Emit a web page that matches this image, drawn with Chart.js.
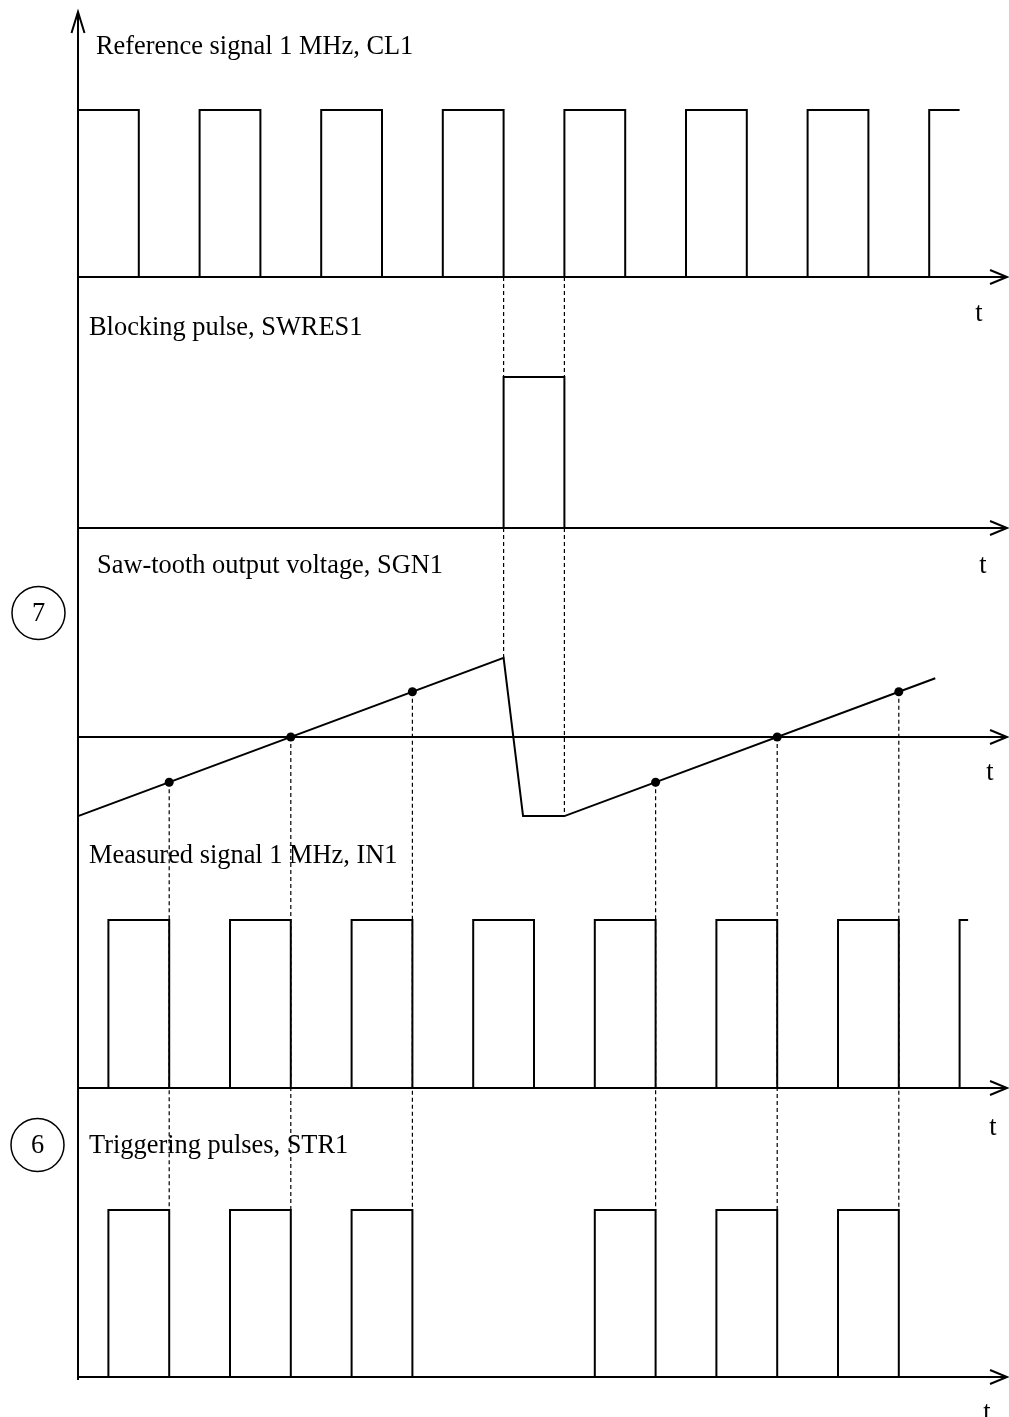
<!DOCTYPE html>
<html>
<head>
<meta charset="utf-8">
<script src="https://cdn.jsdelivr.net/npm/chart.js@4.4.1/dist/chart.umd.min.js"></script>
<style>
  html, body { margin: 0; padding: 0; background: #fff; }
  canvas { display: block; }
</style>
</head>
<body>
<canvas id="timing" width="1009" height="1417"></canvas>
<script>
// time in microseconds, logic levels 0/1, saw-tooth in arbitrary volts
const clTimes  = [0, 0.5, 1, 1.5, 2, 2.5, 3, 3.5, 4, 4.5, 5, 5.5, 6, 6.5, 7, 7.25];
const clLevels = [1, 0, 1, 0, 1, 0, 1, 0, 1, 0, 1, 0, 1, 0, 1, 1];

const swresTimes  = [0, 3.5, 4.0];
const swresLevels = [0, 1, 0];

const sgnTimes  = [0, 3.5, 3.66, 4.0, 7.05];
const sgnLevels = [-1.75, 1.75, -1.75, -1.75, 1.3];

const sampleTimes  = [0.75, 1.75, 2.75, 4.75, 5.75, 6.75];
const sampleLevels = [-1, 0, 1, -1, 0, 1];

const inTimes  = [0, 0.25, 0.75, 1.25, 1.75, 2.25, 2.75, 3.25, 3.75, 4.25, 4.75, 5.25, 5.75, 6.25, 6.75, 7.25, 7.32];
const inLevels = [0, 1, 0, 1, 0, 1, 0, 1, 0, 1, 0, 1, 0, 1, 0, 1, 1];

const strTimes  = [0, 0.25, 0.75, 1.25, 1.75, 2.25, 2.75, 4.25, 4.75, 5.25, 5.75, 6.25, 6.75];
const strLevels = [0, 1, 0, 1, 0, 1, 0, 1, 0, 1, 0, 1, 0];

const resetTimes = [3.5, 4.0];

const laneTitles = [
  'Reference signal 1 MHz, CL1',
  'Blocking pulse, SWRES1',
  'Saw-tooth output voltage, SGN1',
  'Measured signal 1 MHz, IN1',
  'Triggering pulses, STR1'
];
const axisName = 't';
const markerLabels = ['7', '6'];

// layout of the sheet (px)
const W = 1009, H = 1417;
const X0 = 78, PX_PER_US = 121.6;
const AXIS_END_T = 7.64;
const Y_AXIS_TOP = 12, Y_AXIS_BOTTOM = 1380;
const laneOrder = ['cl', 'swres', 'sgn', 'inp', 'str'];
const lanes = {
  cl:    { base: 277,  gain: 167 },
  swres: { base: 528,  gain: 151 },
  sgn:   { base: 737,  gain: 45.2 },
  inp:   { base: 1088, gain: 168 },
  str:   { base: 1377, gain: 167 }
};
const titlePos = [[96, 54], [89, 335], [97, 573], [89, 863], [89, 1153]];
const tLabelPos = [[979, 321], [983, 573], [990, 780], [993, 1135], [987, 1420]];
const markerPos = [[38.5, 613], [37.5, 1145]];
const FONT = '26.4px "Liberation Serif", "Times New Roman", serif';

const yOf = (lane, v) => lanes[lane].base - v * lanes[lane].gain;
const trace = (lane, times, levels) => times.map((t, i) => ({x: t, y: yOf(lane, levels[i])}));
const sgnAt = t => sgnLevels[sgnTimes.indexOf(t)];

// dotted guide lines, segments separated by gaps
const guides = [];
resetTimes.forEach(t => {
  guides.push({x: t, y: yOf('cl', 0)}, {x: t, y: yOf('swres', 1)}, {x: t, y: null});
  guides.push({x: t, y: yOf('swres', 0)}, {x: t, y: yOf('sgn', sgnAt(t))}, {x: t, y: null});
});
sampleTimes.forEach((t, i) => {
  guides.push({x: t, y: yOf('sgn', sampleLevels[i])}, {x: t, y: yOf('str', 1)}, {x: t, y: null});
});

const axes = [{x: 0, y: Y_AXIS_TOP}, {x: 0, y: Y_AXIS_BOTTOM}, {x: 0, y: null}];
laneOrder.forEach(l => {
  axes.push({x: 0, y: yOf(l, 0)}, {x: AXIS_END_T, y: yOf(l, 0)}, {x: 0, y: null});
});

const solid = {borderColor: '#000', borderWidth: 2, pointRadius: 0, fill: false, tension: 0};

const sheetPlugin = {
  id: 'sheet',
  afterDatasetsDraw(chart) {
    const ctx = chart.ctx;
    const xs = chart.scales.x, ys = chart.scales.y;
    ctx.save();
    ctx.strokeStyle = '#000';
    ctx.fillStyle = '#000';
    ctx.lineWidth = 2;
    // arrow heads
    const ax = xs.getPixelForValue(0);
    const top = ys.getPixelForValue(Y_AXIS_TOP);
    ctx.beginPath();
    ctx.moveTo(ax - 6.5, top + 21);
    ctx.lineTo(ax, top);
    ctx.lineTo(ax + 6.5, top + 21);
    ctx.stroke();
    const tip = xs.getPixelForValue(AXIS_END_T);
    laneOrder.forEach(l => {
      const y = ys.getPixelForValue(yOf(l, 0));
      ctx.beginPath();
      ctx.moveTo(tip - 17, y - 7);
      ctx.lineTo(tip, y);
      ctx.lineTo(tip - 17, y + 7);
      ctx.stroke();
    });
    // texts
    ctx.font = FONT;
    ctx.textBaseline = 'alphabetic';
    ctx.textAlign = 'left';
    laneTitles.forEach((s, i) => ctx.fillText(s, titlePos[i][0], titlePos[i][1]));
    ctx.textAlign = 'center';
    tLabelPos.forEach(p => ctx.fillText(axisName, p[0], p[1]));
    ctx.lineWidth = 1.5;
    ctx.textBaseline = 'middle';
    markerLabels.forEach((s, i) => {
      const [cx, cy] = markerPos[i];
      ctx.beginPath();
      ctx.arc(cx, cy, 26.5, 0, Math.PI * 2);
      ctx.stroke();
      ctx.fillText(s, cx, cy + 1);
    });
    ctx.restore();
  }
};

new Chart(document.getElementById('timing'), {
  type: 'line',
  data: {
    datasets: [
      {label: 'axes', data: axes, ...solid, spanGaps: false},
      {label: 'guides', data: guides, borderColor: '#000', borderWidth: 1.2, borderDash: [4, 3], pointRadius: 0, spanGaps: false},
      {label: 'CL1', data: trace('cl', clTimes, clLevels), ...solid, stepped: 'before'},
      {label: 'SWRES1', data: trace('swres', swresTimes, swresLevels), ...solid, stepped: 'before'},
      {label: 'SGN1', data: trace('sgn', sgnTimes, sgnLevels), ...solid},
      {label: 'samples', data: trace('sgn', sampleTimes, sampleLevels), showLine: false, pointRadius: 4.5, pointBackgroundColor: '#000', pointBorderWidth: 0},
      {label: 'IN1', data: trace('inp', inTimes, inLevels), ...solid, stepped: 'before'},
      {label: 'STR1', data: trace('str', strTimes, strLevels), ...solid, stepped: 'before'}
    ]
  },
  options: {
    responsive: false,
    animation: false,
    events: [],
    layout: {padding: 0, autoPadding: false},
    plugins: {legend: {display: false}, tooltip: {enabled: false}},
    scales: {
      x: {type: 'linear', display: false, min: -X0 / PX_PER_US, max: (W - X0) / PX_PER_US},
      y: {type: 'linear', display: false, reverse: true, min: 0, max: H}
    }
  },
  plugins: [sheetPlugin]
});
</script>
</body>
</html>
